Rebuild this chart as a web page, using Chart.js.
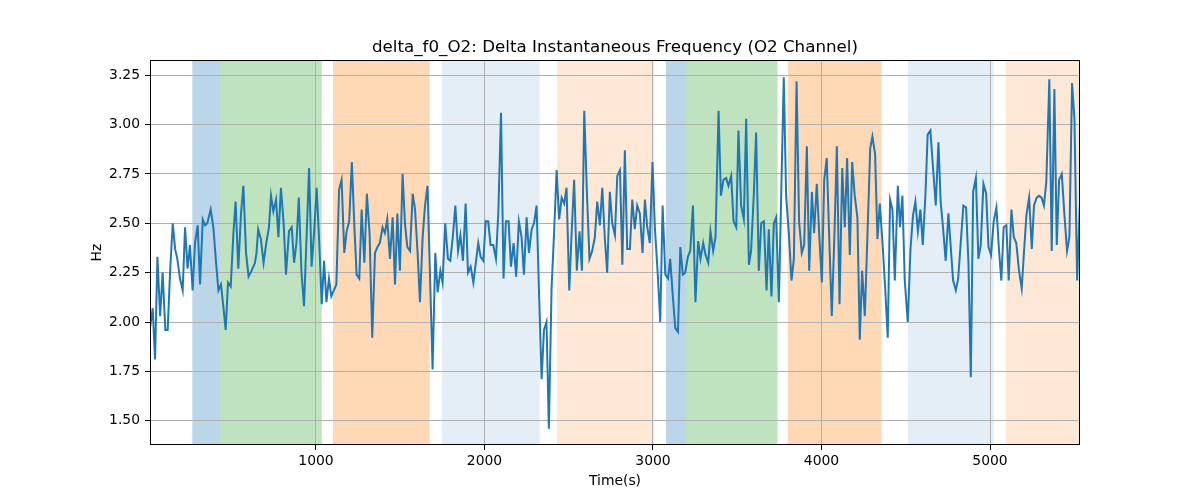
<!DOCTYPE html>
<html><head><meta charset="utf-8">
<script src="https://cdn.jsdelivr.net/npm/chart.js@4.4.0/dist/chart.umd.min.js"></script>
<style>html,body{margin:0;padding:0;background:#fff}canvas{display:block}</style>
</head><body>
<canvas id="c" width="1200" height="500"></canvas>
<script>
// time (s) of each sample
const times = [15,31,45,59,75,90,106,120,134,150,164,177,193,209,223,238,252,268,282,298,312,328,342,355,375,391,407,421,436,450,464,478,494,510,523,539,555,569,585,600,618,638,647,657,673,689,705,721,
733,747,763,777,792,808,822,840,856,870,884,898,914,929,945,959,974,990,1004,1019,1034,1048,1062,1077,1091,1106,1121,1137,1152,1168,1182,1197,1213,1227,1241,1257,1271,1287,1302,1318,1334,1350,1365,1379,1395,1409,1423,1439,1455,1469,
1483,1498,1514,1528,1542,1558,1574,1588,1603,1617,1633,1647,1662,1692,1708,1722,1738,1751,1767,1783,1797,1813,1827,1843,1857,1872,1888,1902,1918,1934,1947,1963,1977,1993,2007,2022,2036,2052,2068,2082,2098,2113,2127,2143,2157,2173,2188,2204,
2220,2234,2250,2264,2280,2294,2309,2323,2339,2353,2368,2382,2398,2414,2428,2443,2458,2473,2487,2503,2517,2532,2548,2564,2578,2592,2608,2623,2639,2655,2669,2685,2699,2715,2728,2744,2758,2774,2788,2804,2818,2833,2847,2863,2877,2892,2906,2922,2938,2952,
2966,2981,2997,3011,3027,3043,3057,3073,3089,3102,3116,3132,3148,3162,3177,3191,3207,3221,3237,3252,3268,3282,3298,3312,3328,3341,3357,3371,3389,3403,3418,3434,3448,3464,3478,3494,3507,3523,3539,3553,3569,3582,3598,3612,3628,3642,3658,3674,3687,
3703,3717,3731,3747,3776,3790,3806,3822,3836,3852,3867,3883,3897,3913,3927,3943,3956,3972,3986,4002,4016,4031,4045,4061,4077,4091,4107,4123,4138,4152,4168,4182,4197,4213,4227,4241,4257,4273,4289,4302,4318,4332,4346,4362,4378,4393,4407,4421,4435,
4453,4466,4480,4494,4512,4528,4543,4557,4572,4587,4601,4617,4630,4646,4662,4678,4694,4707,4721,4737,4753,4767,4781,4797,4811,4826,4842,4858,4872,4886,4900,4916,4931,4945,4961,4977,4991,5006,5022,5038,5052,5067,5081,5097,5111,
5127,5141,5156,5172,5188,5202,5216,5232,5248,5261,5277,5291,5306,5320,5334,5352,5366,5382,5396,5410,5426,5441,5457,5471,5487,5501,5517,5533];

// delta f0 (Hz) at each time
const deltaF0 = [1.97,2.07,1.81,2.33,2.03,2.25,1.96,1.96,2.25,2.50,2.37,2.32,2.22,2.16,2.48,2.27,2.39,2.16,2.40,2.49,2.19,2.52,2.49,2.50,2.57,2.48,2.30,2.16,2.19,2.08,1.96,2.20,2.18,2.45,2.61,2.27,2.55,2.69,2.35,2.23,2.26,2.30,2.35,2.47,2.42,2.30,2.40,2.48,
2.64,2.56,2.62,2.43,2.68,2.50,2.24,2.46,2.48,2.30,2.40,2.63,2.25,2.08,2.45,2.78,2.28,2.47,2.68,2.41,2.09,2.31,2.10,2.22,2.13,2.16,2.19,2.67,2.72,2.35,2.46,2.51,2.81,2.50,2.24,2.22,2.57,2.30,2.65,2.45,1.92,2.35,2.38,2.40,2.48,2.45,2.52,2.32,2.53,2.19,
2.55,2.26,2.75,2.50,2.38,2.36,2.65,2.57,2.35,2.10,2.43,2.59,2.69,1.76,2.35,2.15,2.26,2.20,2.50,2.32,2.31,2.44,2.59,2.36,2.44,2.31,2.60,2.25,2.28,2.20,2.29,2.40,2.33,2.31,2.51,2.51,2.39,2.39,2.32,2.55,3.06,2.22,2.51,2.51,2.28,2.40,2.23,2.51,
2.43,2.24,2.53,2.35,2.47,2.50,2.59,2.17,1.71,1.96,2.00,1.46,2.17,2.47,2.77,2.52,2.63,2.60,2.68,2.16,2.45,2.72,2.26,2.46,2.26,3.07,2.65,2.32,2.36,2.43,2.61,2.49,2.68,2.41,2.25,2.66,2.50,2.44,2.74,2.77,2.29,2.87,2.37,2.37,2.62,2.47,2.59,2.55,2.35,2.62,
2.48,2.40,2.81,2.48,2.26,2.00,2.59,2.24,2.22,2.32,2.15,1.97,1.95,2.38,2.24,2.25,2.33,2.36,2.59,2.10,2.41,2.32,2.40,2.34,2.30,2.46,2.36,2.43,3.07,2.64,2.72,2.73,2.69,2.74,2.51,2.48,2.97,2.59,2.52,3.03,2.29,2.36,2.64,2.96,2.26,2.50,2.51,2.16,2.47,
2.13,2.50,2.53,2.10,3.24,2.64,2.45,2.21,2.32,3.22,2.51,2.35,2.39,2.89,2.26,2.66,2.45,2.70,2.45,2.20,2.72,2.83,2.45,2.03,2.45,2.89,2.09,2.78,2.48,2.83,2.34,2.81,2.64,2.53,1.91,2.26,2.03,2.45,2.88,2.94,2.85,2.42,2.60,2.40,2.17,1.92,2.62,2.57,2.21,
2.69,2.48,2.64,2.21,2.00,2.37,2.54,2.61,2.46,2.57,2.39,2.65,2.95,2.97,2.78,2.59,2.91,2.61,2.48,2.31,2.55,2.38,2.21,2.16,2.22,2.40,2.59,2.58,2.30,1.72,2.66,2.73,2.32,2.39,2.70,2.65,2.38,2.34,2.51,2.58,2.38,2.21,2.48,2.49,2.21,
2.57,2.43,2.40,2.26,2.17,2.36,2.54,2.63,2.37,2.59,2.63,2.64,2.63,2.59,2.71,3.23,2.36,3.18,2.39,2.72,2.75,2.55,2.36,2.43,3.21,3.03,2.21,2.59];

// shaded intervals (s)
const regionStart = [266, 432, 1101, 1747, 2430, 3077, 3197, 3800, 4512, 5093];
const regionEnd   = [432, 1034, 1675, 2328, 3007, 3197, 3739, 4356, 5022, 5534];
const regionKind  = ['blue','green','orange','lightblue','lightorange','blue','green','orange','lightblue','lightorange'];

const xTicks = [1000, 2000, 3000, 4000, 5000];
const yTicks = [1.50, 1.75, 2.00, 2.25, 2.50, 2.75, 3.00, 3.25];

const kindColor = {
  blue: 'rgba(31,119,180,0.3)',
  green: 'rgba(44,160,44,0.3)',
  orange: 'rgba(255,127,14,0.3)',
  lightblue: 'rgba(31,119,180,0.12)',
  lightorange: 'rgba(255,127,14,0.17)'
};

const points = times.map((t, i) => ({x: t, y: deltaF0[i]}));

const spansPlugin = {
  id: 'spans',
  beforeDraw(chart) {
    const {ctx, chartArea: a, scales: {x}} = chart;
    ctx.save();
    ctx.beginPath();
    ctx.rect(a.left, a.top, a.right - a.left, a.bottom - a.top);
    ctx.clip();
    regionStart.forEach((s, i) => {
      const x0 = x.getPixelForValue(s);
      const x1 = x.getPixelForValue(regionEnd[i]);
      ctx.fillStyle = kindColor[regionKind[i]];
      ctx.fillRect(x0, a.top, x1 - x0, a.bottom - a.top);
    });
    ctx.restore();
  },
  afterDraw(chart) {
    const {ctx, chartArea: a} = chart;
    ctx.save();
    ctx.strokeStyle = '#000';
    ctx.lineWidth = 1;
    ctx.strokeRect(Math.round(a.left) + 0.5, Math.round(a.top) + 0.5,
                   Math.round(a.right - a.left) - 1, Math.round(a.bottom - a.top) - 1);
    ctx.restore();
  }
};

Chart.defaults.color = '#000';
Chart.defaults.font.family = "'DejaVu Sans', sans-serif";

new Chart(document.getElementById('c'), {
  type: 'line',
  data: {
    datasets: [{
      data: points,
      borderColor: '#1f77b4',
      borderWidth: 2,
      pointRadius: 0,
      tension: 0,
      fill: false
    }]
  },
  options: {
    responsive: false,
    animation: false,
    devicePixelRatio: 1,
    layout: {padding: {left: 0, right: 120, top: 0, bottom: 0}},
    plugins: {
      legend: {display: false},
      tooltip: {enabled: false},
      title: {
        display: true,
        fullSize: false,
        text: 'delta_f0_O2: Delta Instantaneous Frequency (O2 Channel)',
        font: {size: 16.7, weight: 'normal'},
        color: '#000',
        padding: {top: 38, bottom: 2}
      }
    },
    scales: {
      x: {
        type: 'linear',
        min: 15,
        max: 5534,
        afterBuildTicks: s => { s.ticks = xTicks.map(v => ({value: v})); },
        afterFit: s => { s.height = 55; },
        grid: {color: '#b0b0b0', lineWidth: 1, tickColor: '#000', tickLength: 5, drawOnChartArea: true},
        border: {display: false},
        ticks: {font: {size: 13.9}, padding: 3, autoSkip: false, maxRotation: 0, callback: v => String(v)},
        title: {display: true, text: 'Time(s)', font: {size: 13.9}, padding: {top: 0, bottom: 10.7}}
      },
      y: {
        type: 'linear',
        min: 1.377,
        max: 3.327,
        afterBuildTicks: s => { s.ticks = yTicks.map(v => ({value: v})); },
        afterFit: s => { s.width = 150; },
        grid: {color: '#b0b0b0', lineWidth: 1, tickColor: '#000', tickLength: 5},
        border: {display: false},
        ticks: {font: {size: 13.9}, padding: 5, autoSkip: false, callback: v => v.toFixed(2)},
        title: {display: true, text: 'Hz', font: {size: 13.9}, padding: {top: 89, bottom: 0}}
      }
    }
  },
  plugins: [spansPlugin]
});
</script>
</body></html>
